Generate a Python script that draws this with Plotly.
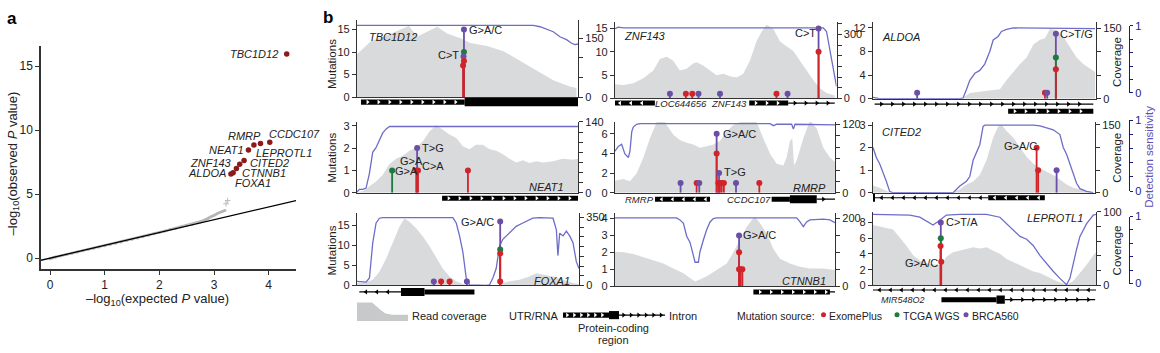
import numpy as np
import plotly.graph_objects as go

W, H = 1160, 353
FONT = "Liberation Sans, Arial, Helvetica, sans-serif"
INK = "#222222"
AXIS = "#333333"
RED, GREEN, PURPLE = "#d1232a", "#1f7a3d", "#6b4fa6"
SRC_COLOR = {"E": RED, "T": GREEN, "B": PURPLE}
COV_GREY = "#d9dadc"
SENS_BLUE = "#6d6dc9"
NAVY = "#1b1b7d"
LABEL_PURPLE = "#6252b8"
SIG_RED = "#8b1a1a"

# ------------------------------------------------------------------ panel a data
qq_expected = [0.00, 0.05, 0.10, 0.20, 0.30, 0.40, 0.50, 0.60, 0.70, 0.80, 0.90, 1.00, 1.10, 1.20,
               1.30, 1.40, 1.50, 1.60, 1.70, 1.80, 1.90, 2.00, 2.10, 2.20, 2.30, 2.40, 2.50, 2.60,
               2.70, 2.75, 2.80, 2.85, 2.90, 2.95, 3.00, 3.05, 3.10, 3.15, 3.20, 3.22, 3.25]
qq_observed = [-0.05, 0.03, 0.09, 0.19, 0.29, 0.38, 0.48, 0.58, 0.67, 0.77, 0.87, 0.96, 1.06, 1.16,
               1.26, 1.37, 1.47, 1.58, 1.68, 1.79, 1.90, 2.01, 2.12, 2.23, 2.34, 2.45, 2.55, 2.65,
               2.76, 2.82, 2.92, 3.02, 3.14, 3.26, 3.36, 3.46, 3.56, 3.64, 3.72, 4.25, 4.50]
diag_x = [-0.17, 4.5]
diag_y = [-0.17, 4.5]
sig_genes = ["TBC1D12", "CCDC107", "RMRP", "LEPROTL1", "NEAT1", "CITED2", "ZNF143", "CTNNB1", "FOXA1", "ALDOA"]
sig_expected = [4.33, 4.02, 3.85, 3.73, 3.63, 3.55, 3.47, 3.41, 3.35, 3.31]
sig_observed = [15.96, 9.06, 8.96, 8.84, 8.46, 7.63, 7.33, 7.00, 6.67, 6.57]

# ------------------------------------------------------------------ panel b data (x: 0-100 along locus)
tbc1d12_cov_pos = [0, 6.3, 13.8, 21.3, 23.5, 27.3, 31.8, 36.3, 40.8, 46.8, 51.3, 58.8, 66.3, 73.8, 81.3, 88.8, 96.3, 99.3]
tbc1d12_cov = [109, 142, 158, 176, 181, 154, 166, 179, 162, 150, 138, 130, 117, 93, 68, 43, 27, 23]
tbc1d12_sens_pos = [0, 79.8, 82.8, 85.8, 88.8, 91.8, 94.8, 97.1, 98.6, 100]
tbc1d12_sens = [1, 1, 0.98, 0.95, 0.91, 0.84, 0.80, 0.75, 0.73, 0.74]
tbc1d12_mut_pos = [48.4, 48.4, 48.2, 48.0, 48.4]
tbc1d12_mut_n = [15, 10, 9, 7, 8]
tbc1d12_mut_src = ["B", "T", "B", "E", "E"]
tbc1d12_mut_labels = ["C>T", "G>A/C"]
tbc1d12_track = [("utr", 1.8, 48.7, ">", 0), ("cds", 48.7, 100, "", 0)]

znf143_cov_pos = [0, 3.8, 8.3, 12.8, 17.3, 20.3, 23.3, 26.3, 29.3, 32.3, 35.3, 36.8, 39.8, 42.9, 45.9, 48.9, 51.9,
                  54.9, 57.9, 60.9, 63.9, 66.2, 68.4, 71.4, 74.4, 77.4, 80.5, 83.5, 86.5, 89.5, 92.5, 95.5, 99.2]
znf143_cov = [66, 63, 71, 94, 131, 184, 195, 176, 131, 139, 164, 169, 154, 131, 109, 116, 104,
              98, 116, 176, 267, 312, 345, 327, 267, 244, 222, 176, 131, 86, 48, 26, 14]
znf143_sens_pos = [0, 1.5, 3.8, 94.0, 95.5, 97.0, 98.5, 100]
znf143_sens = [0.99, 1.01, 1, 1, 0.95, 0.67, 0.40, 0.17]
znf143_mut_pos = [24.8, 32.0, 34.9, 37.7, 47.4, 72.9, 77.9, 91.9, 91.9]
znf143_mut_n = [1, 1, 1, 1, 1, 1, 1, 10, 15]
znf143_mut_src = ["B", "E", "E", "B", "B", "E", "B", "E", "B"]
znf143_mut_labels = ["C>T"]
znf143_track = [("utr", -0.75, 18.0, "<", 0), ("utr", 60.6, 78.2, ">", 0), ("intron", 78.2, 99.2, ">", 0)]
znf143_track_text = [("LOC644656", 29.8, 0), ("ZNF143", 51.4, 0)]

aldoa_cov_pos = [0, 38.9, 40.4, 43.4, 49.4, 56.9, 59.9, 62.9, 65.9, 68.9, 71.9, 74.9, 77.1, 79.3, 82.3, 85.3,
                 88.3, 91.3, 94.3, 97.3, 99.6]
aldoa_cov = [0, 0, 2, 12, 16, 20, 40, 57, 74, 88, 116, 126, 129, 149, 147, 133, 109, 88, 74, 64, 57]
aldoa_sens_pos = [0, 2.2, 3.0, 38.9, 40.4, 41.9, 43.4, 45.7, 47.9, 50.1, 52.4, 53.9, 56.1, 57.6, 59.9, 62.9, 99.6]
aldoa_sens = [0.02, 0.01, 0, 0, 0.01, 0.13, 0.26, 0.36, 0.40, 0.49, 0.67, 0.83, 0.88, 0.95, 0.98, 1, 0.99]
aldoa_mut_pos = [19.8, 77.1, 78.1, 82.0, 82.0, 82.0]
aldoa_mut_n = [1, 1, 1, 5, 7, 11]
aldoa_mut_src = ["B", "E", "B", "E", "T", "B"]
aldoa_mut_labels = ["C>T/G"]
aldoa_track = [("intron", 0.75, 98.8, ">", 0), ("utr", 60.6, 98.8, ">", 1)]

neat1_cov_pos = [0, 2.6, 5.6, 8.6, 11.6, 14.7, 17.7, 20.7, 23.7, 26.7, 29.8, 32.8, 35.8, 38.8, 41.8, 44.9, 47.9,
                 50.9, 53.9, 56.9, 60.0, 63.0, 66.0, 69.0, 72.1, 75.1, 78.1, 81.1, 84.1, 88.7, 93.2, 97.7, 100]
neat1_cov = [1, 3, 13, 22, 35, 57, 67, 73, 83, 89, 102, 121, 134, 124, 115, 108, 92,
             86, 95, 95, 86, 83, 76, 67, 60, 64, 59, 62, 60, 62, 67, 65, 67]
neat1_sens_pos = [0, 1.1, 2.6, 4.1, 5.6, 7.1, 8.6, 10.1, 11.6, 13.1, 14.7, 100]
neat1_sens = [0.01, 0.05, 0.05, 0.07, 0.29, 0.61, 0.68, 0.78, 0.90, 0.96, 1.0, 1.0]
neat1_mut_pos = [15.9, 27.2, 26.8, 27.6, 50.2]
neat1_mut_n = [1, 2, 1, 1, 1]
neat1_mut_src = ["T", "B", "E", "E", "E"]
neat1_mut_labels = ["G>A", "G>A", "C>A", "T>G"]
neat1_track = [("utr", 38.5, 100, ">", 0)]

rmrp_cov_pos = [0, 3.8, 6.8, 9.8, 12.9, 15.9, 18.9, 21.2, 23.5, 26.5, 29.5, 32.6, 35.6, 38.6, 41.7, 44.7, 47.7,
                50.8, 53.8, 58.3, 62.1, 64.4, 67.4, 70.5, 73.5, 76.5, 78.0, 79.5, 80.6, 81.4, 82.6, 85.6, 88.6,
                91.7, 94.7, 97.7, 100]
rmrp_cov = [21, 24, 20, 34, 62, 96, 124, 139, 119, 102, 93, 88, 85, 79, 82, 85, 91,
            108, 119, 127, 139, 124, 96, 68, 51, 48, 62, 91, 96, 48, 57, 96, 127,
            113, 79, 62, 54]
rmrp_sens_pos = [0, 1.5, 3.0, 4.5, 6.1, 6.8, 7.6, 8.3, 9.8, 11.4, 70.5, 72.0, 73.5, 80.3, 81.1, 81.8, 100]
rmrp_sens = [0.60, 0.67, 0.70, 0.56, 0.51, 0.60, 0.88, 0.95, 0.99, 1, 1, 0.97, 0.99, 0.99, 0.92, 0.99, 0.98]
rmrp_mut_pos = [29.8, 37.1, 38.3, 46.2, 46.2, 47.3, 47.0, 47.7, 48.5, 49.5, 55.0, 65.6]
rmrp_mut_n = [1, 1, 1, 6, 4, 2, 1, 1, 1, 1, 1, 1]
rmrp_mut_src = ["B", "E", "B", "B", "E", "B", "E", "E", "E", "E", "B", "E"]
rmrp_mut_labels = ["G>A/C", "T>G"]
rmrp_track = [("utr", 18.2, 43.2, "<", 0), ("bar", 71.2, 79.5, "", 0), ("cds", 79.5, 91.7, "", 0),
              ("intron", 91.7, 100, ">", 0)]
rmrp_track_text = [("RMRP", 11.2, 0), ("CCDC107", 60.9, 0)]

cited2_cov_pos = [0, 3.0, 6.0, 9.0, 36.1, 39.1, 42.1, 45.1, 48.1, 51.1, 54.1, 56.4, 57.9, 60.2, 63.2, 66.2, 69.2,
                  72.2, 75.2, 78.2, 81.2, 84.2, 87.2, 90.2, 93.2, 96.2, 99.2]
cited2_cov = [16, 11, 4, 0, 1, 7, 18, 25, 39, 71, 121, 146, 150, 136, 121, 100, 79,
              64, 54, 46, 39, 29, 18, 11, 7, 4, 1]
cited2_sens_pos = [0, 1.5, 3.0, 4.5, 6.0, 7.5, 9.0, 36.1, 37.6, 39.1, 42.1, 43.6, 45.1, 48.1, 49.6, 50.4,
                   72.2, 75.2, 78.2, 81.2, 84.2, 85.7, 87.2, 88.7, 90.2, 91.7, 93.2, 96.2, 99.2]
cited2_sens = [0.67, 0.52, 0.43, 0.31, 0.17, 0.02, 0, 0, 0.05, 0.10, 0.17, 0.24, 0.48, 0.71, 0.98, 1,
               1, 0.99, 0.96, 0.93, 0.86, 0.67, 0.57, 0.43, 0.31, 0.14, 0.06, 0.02, 0]
cited2_mut_pos = [73.7, 74.4, 82.7]
cited2_mut_n = [2, 1, 1]
cited2_mut_src = ["E", "E", "B"]
cited2_mut_labels = ["G>A/C"]
cited2_track = [("cds", 0, 0.9, "", 0), ("intron", 0.9, 51.9, "<", 0), ("utr", 51.9, 77.4, "<", 0)]

foxa1_cov_pos = [0, 4.1, 7.1, 10.1, 13.1, 16.1, 19.1, 21.4, 23.6, 26.6, 29.6, 32.6, 35.6, 38.6, 41.7, 44.7, 47.7,
                 50.7, 53.7, 64.2, 65.7, 68.7, 73.2, 77.7, 80.8, 83.8, 88.3, 92.8, 97.3, 100]
foxa1_cov = [13, 17, 30, 71, 138, 221, 303, 345, 328, 295, 254, 204, 146, 88, 46, 22, 8,
             2, 0, 0, 13, 22, 30, 46, 63, 55, 46, 30, 13, 8]
foxa1_sens_pos = [0, 4.1, 5.6, 7.1, 8.6, 10.1, 11.6, 43.2, 44.7, 46.2, 47.7, 49.2, 50.7, 58.2, 59.7, 61.2, 62.7,
                  64.2, 65.7, 67.2, 68.7, 71.7, 74.7, 79.2, 82.3, 88.3, 89.8, 90.5, 91.3, 92.8, 94.3, 95.8,
                  97.3, 98.8, 100]
foxa1_sens = [0.06, 0.05, 0.11, 0.63, 0.92, 0.99, 1, 1, 0.92, 0.73, 0.49, 0.11, 0.01, 0, 0.01, 0.11, 0.25,
              0.58, 0.68, 0.73, 0.77, 0.87, 0.92, 0.99, 1, 0.99, 0.82, 0.44, 0.77, 0.73, 0.80, 0.73,
              0.63, 0.35, 0.25]
foxa1_mut_pos = [34.6, 37.9, 41.7, 49.5, 64.5, 64.5, 64.5, 64.5]
foxa1_mut_n = [1, 1, 1, 1, 16, 9, 8, 1]
foxa1_mut_src = ["B", "E", "E", "B", "B", "T", "E", "E"]
foxa1_mut_labels = ["G>A/C"]
foxa1_track = [("intron", 1.05, 19.8, "<", 0), ("cds", 19.8, 30.4, "", 0), ("bar", 30.4, 52.9, "", 0)]

ctnnb1_cov_pos = [0, 3.8, 8.3, 12.9, 17.4, 22.0, 26.5, 31.1, 34.1, 36.4, 38.6, 41.7, 46.2, 50.8, 53.8, 56.8,
                  59.8, 62.1, 63.6, 65.9, 68.9, 72.0, 75.0, 79.5, 84.1, 88.6, 94.7, 100]
ctnnb1_cov = [102, 100, 95, 86, 76, 67, 52, 38, 24, 14, 20, 29, 48, 67, 100, 140,
              175, 195, 205, 186, 157, 110, 81, 67, 57, 52, 52, 48]
ctnnb1_sens_pos = [0, 28.0, 29.5, 31.1, 32.6, 34.1, 35.6, 36.4, 37.9, 38.6, 40.2, 41.7, 43.2, 44.7, 46.2,
                   82.6, 84.1, 85.6, 87.1, 88.6, 94.7, 97.7, 100]
ctnnb1_sens = [1, 1, 0.97, 0.92, 0.73, 0.64, 0.45, 0.35, 0.35, 0.50, 0.68, 0.83, 0.94, 0.99, 1,
               1, 0.94, 0.87, 0.94, 0.97, 0.98, 0.97, 0.93]
ctnnb1_mut_pos = [56.4, 56.4, 56.4, 57.1, 57.9]
ctnnb1_mut_n = [3, 2, 1, 1, 1]
ctnnb1_mut_src = ["B", "E", "E", "E", "E"]
ctnnb1_mut_labels = ["G>A/C"]
ctnnb1_track = [("utr", 62.9, 97.7, ">", 0), ("intron", 97.7, 100, "", 0)]

leprotl1_cov_pos = [0, 3.0, 6.0, 9.0, 12.0, 15.0, 18.0, 21.0, 24.0, 28.4, 30.7, 32.9, 35.9, 38.9, 41.9, 44.9,
                    47.9, 50.9, 53.9, 56.9, 59.9, 62.9, 65.9, 68.9, 71.9, 74.9, 77.8, 80.8, 83.8, 86.8, 89.8,
                    92.8, 95.8, 98.8, 100]
leprotl1_cov = [82, 80, 78, 76, 65, 54, 41, 34, 30, 28, 28, 39, 45, 47, 50, 52,
                50, 52, 47, 43, 36, 32, 28, 23, 19, 17, 12, 8, 4, 1, 6,
                17, 28, 41, 45]
leprotl1_sens_pos = [0, 9.0, 16.5, 21.0, 24.0, 26.9, 29.2, 30.7, 32.9, 38.9, 50.9, 56.9, 59.9, 62.9, 65.9,
                     68.9, 71.9, 74.9, 77.8, 80.8, 83.8, 86.8, 88.3, 89.8, 91.3, 92.8, 95.8, 98.8, 100]
leprotl1_sens = [1, 1, 0.99, 0.96, 0.90, 0.85, 0.90, 0.94, 0.99, 1, 1, 0.96, 0.87, 0.78, 0.69,
                 0.65, 0.56, 0.42, 0.31, 0.20, 0.10, 0.01, 0.10, 0.33, 0.51, 0.69, 0.87, 0.99, 1]
leprotl1_mut_pos = [30.4, 30.4, 30.3, 30.6]
leprotl1_mut_n = [8, 6, 5, 3]
leprotl1_mut_src = ["B", "T", "E", "E"]
leprotl1_mut_labels = ["C>T/A", "G>A/C"]
leprotl1_track = [("intron", 0, 100, "<", 0), ("bar", 30.7, 55.4, "", 1), ("cds", 55.4, 59.1, "", 1),
                  ("intron", 59.1, 99.6, ">", 1)]
leprotl1_track_text = [("MIR548O2", 13.6, 1)]

legend_sources = ["ExomePlus", "TCGA WGS", "BRCA560"]
legend_source_codes = ["E", "T", "B"]

# ------------------------------------------------------------------ layout of panel b (positions in px)
panels = [
    dict(name="TBC1D12", cov_pos=tbc1d12_cov_pos, cov=tbc1d12_cov, sens_pos=tbc1d12_sens_pos, sens=tbc1d12_sens,
         mut_pos=tbc1d12_mut_pos, mut_n=tbc1d12_mut_n, mut_src=tbc1d12_mut_src,
         labels=tbc1d12_mut_labels, label_pos=[(46.6, 9.3, "right"), (50.2, 15, "left")],
         track=tbc1d12_track, track_text=[], rows=[99.5],
         box=(357, 578, 15, 94.3), m_top=17, m_ticks=[0, 5, 10, 15], c_top=195, c_step=50, c_label=150, c_max=150,
         s_top=1.067, gene_pos=(5.0, 13.3, "left"), third=None),
    dict(name="ZNF143", cov_pos=znf143_cov_pos, cov=znf143_cov, sens_pos=znf143_sens_pos, sens=znf143_sens,
         mut_pos=znf143_mut_pos, mut_n=znf143_mut_n, mut_src=znf143_mut_src,
         labels=znf143_mut_labels, label_pos=[(91.0, 14.1, "right")],
         track=znf143_track, track_text=znf143_track_text, rows=[100.5],
         box=(615, 836.5, 16.7, 95.7), m_top=16.37, m_ticks=[0, 5, 10, 15], c_top=357, c_step=50, c_label=300, c_max=350,
         s_top=1.082, gene_pos=(3.8, 13.3, "left"), third=None),
    dict(name="ALDOA", cov_pos=aldoa_cov_pos, cov=aldoa_cov, sens_pos=aldoa_sens_pos, sens=aldoa_sens,
         mut_pos=aldoa_mut_pos, mut_n=aldoa_mut_n, mut_src=aldoa_mut_src,
         labels=aldoa_mut_labels, label_pos=[(83.6, 11, "left")],
         track=aldoa_track, track_text=[], rows=[101.5, 109],
         box=(873, 1096, 17, 96), m_top=12.93, m_ticks=[0, 4, 8, 12], c_top=163, c_step=50, c_label=150, c_max=150,
         s_top=1.078, gene_pos=(3.7, 10.5, "left"), third=(20.7, 90)),
    dict(name="NEAT1", cov_pos=neat1_cov_pos, cov=neat1_cov, sens_pos=neat1_sens_pos, sens=neat1_sens,
         mut_pos=neat1_mut_pos, mut_n=neat1_mut_n, mut_src=neat1_mut_src,
         labels=neat1_mut_labels, label_pos=[(16.9, 0.97, "left"), (19.2, 1.42, "left"), (29.0, 1.2, "left"),
                                             (29.0, 2.0, "left")],
         track=neat1_track, track_text=[], rows=[199],
         box=(357, 578, 120, 193.3), m_top=3.17, m_ticks=[0, 1, 2, 3], c_top=140, c_step=20, c_label=140, c_max=140,
         s_top=1.069, gene_pos=(94.0, 0.25, "right"), third=None),
    dict(name="RMRP", cov_pos=rmrp_cov_pos, cov=rmrp_cov, sens_pos=rmrp_sens_pos, sens=rmrp_sens,
         mut_pos=rmrp_mut_pos, mut_n=rmrp_mut_n, mut_src=rmrp_mut_src,
         labels=rmrp_mut_labels, label_pos=[(48.5, 6, "left"), (48.9, 2.1, "left")],
         track=rmrp_track, track_text=rmrp_track_text, rows=[200],
         box=(615, 835, 120, 193.3), m_top=7.2, m_ticks=[0, 2, 4, 6], c_top=124.6, c_step=20, c_label=120, c_max=120,
         s_top=1.024, gene_pos=(96.2, 0.5, "right"), third=None),
    dict(name="CITED2", cov_pos=cited2_cov_pos, cov=cited2_cov, sens_pos=cited2_sens_pos, sens=cited2_sens,
         mut_pos=cited2_mut_pos, mut_n=cited2_mut_n, mut_src=cited2_mut_src,
         labels=cited2_mut_labels, label_pos=[(74.2, 2.07, "right")],
         track=cited2_track, track_text=[], rows=[198.5],
         box=(873, 1095, 120, 193.3), m_top=3.14, m_ticks=[0, 1, 2, 3], c_top=156, c_step=50, c_label=150, c_max=150,
         s_top=1.047, gene_pos=(3.8, 2.71, "left"), third=(118.3, 191.7)),
    dict(name="FOXA1", cov_pos=foxa1_cov_pos, cov=foxa1_cov, sens_pos=foxa1_sens_pos, sens=foxa1_sens,
         mut_pos=foxa1_mut_pos, mut_n=foxa1_mut_n, mut_src=foxa1_mut_src,
         labels=foxa1_mut_labels, label_pos=[(62.2, 16, "right")],
         track=foxa1_track, track_text=[], rows=[296],
         box=(357, 579, 214, 289.3), m_top=18.2, m_ticks=[0, 5, 10, 15], c_top=375, c_step=50, c_label=350, c_max=350,
         s_top=1.071, gene_pos=(96.5, 1.05, "right"), third=None),
    dict(name="CTNNB1", cov_pos=ctnnb1_cov_pos, cov=ctnnb1_cov, sens_pos=ctnnb1_sens_pos, sens=ctnnb1_sens,
         mut_pos=ctnnb1_mut_pos, mut_n=ctnnb1_mut_n, mut_src=ctnnb1_mut_src,
         labels=ctnnb1_mut_labels, label_pos=[(57.9, 3, "left")],
         track=ctnnb1_track, track_text=[], rows=[296],
         box=(615, 835, 214, 290), m_top=4.34, m_ticks=[0, 1, 2, 3, 4], c_top=217, c_step=50, c_label=200, c_max=200,
         s_top=1.075, gene_pos=(96.2, 0.32, "right"), third=None),
    dict(name="LEPROTL1", cov_pos=leprotl1_cov_pos, cov=leprotl1_cov, sens_pos=leprotl1_sens_pos, sens=leprotl1_sens,
         mut_pos=leprotl1_mut_pos, mut_n=leprotl1_mut_n, mut_src=leprotl1_mut_src,
         labels=leprotl1_mut_labels, label_pos=[(32.3, 8, "left"), (29.6, 2.9, "right")],
         track=leprotl1_track, track_text=leprotl1_track_text, rows=[294, 304],
         box=(873, 1096, 213, 289.3), m_top=9.35, m_ticks=[0, 2, 4, 6, 8], c_top=100, c_step=20, c_label=100, c_max=100,
         s_top=1.037, gene_pos=(94.6, 8.5, "right"), third=(218, 287.3)),
]

# ------------------------------------------------------------------ helpers
fig = go.Figure()
axes = {}
count = {"x": 0, "y": 0}
annotations = []
shapes = []
TICKFONT = dict(family=FONT, size=11, color=INK)


def new_axis(letter):
    count[letter] += 1
    n = count[letter]
    suffix = "" if n == 1 else str(n)
    return letter + suffix, letter + "axis" + suffix


def fx(px):
    return px / W


def fy(py):
    return 1 - py / H


def ann(text, x, y, xref="paper", yref="paper", size=11, color=INK, xanchor="center",
        yanchor="middle", italic=False, bold=False, angle=0):
    if italic:
        text = "<i>" + text + "</i>"
    if bold:
        text = "<b>" + text + "</b>"
    annotations.append(dict(text=text, x=x, y=y, xref=xref, yref=yref, showarrow=False,
                            font=dict(family=FONT, size=size, color=color), xanchor=xanchor,
                            yanchor=yanchor, textangle=angle, borderpad=0))


def draw_feature(kind, a, b, direction, ypx, xref, yref, step):
    if kind in ("utr", "bar", "cds"):
        h = 4.2 if kind == "cds" else 2.6
        shapes.append(dict(type="rect", xref=xref, yref=yref, x0=a, x1=b, y0=ypx - h, y1=ypx + h,
                           fillcolor="black", line=dict(width=0), layer="below"))
        if kind == "utr" and direction:
            xs = np.arange(a + step * 0.6, b - step * 0.3, step)
            fig.add_trace(go.Scatter(x=xs, y=[ypx] * len(xs), xaxis=xref, yaxis=yref, mode="markers",
                                     marker=dict(symbol="triangle-right" if direction == ">" else "triangle-left",
                                                 size=4, color="white", line=dict(width=0)),
                                     cliponaxis=False, hoverinfo="skip"))
    else:
        shapes.append(dict(type="line", xref=xref, yref=yref, x0=a, x1=b, y0=ypx, y1=ypx,
                           line=dict(color="black", width=1.2), layer="below"))
        if direction:
            xs = np.arange(a + step * 0.6, b - step * 0.3, step)
            fig.add_trace(go.Scatter(x=xs, y=[ypx] * len(xs), xaxis=xref, yaxis=yref, mode="markers",
                                     marker=dict(symbol="triangle-right" if direction == ">" else "triangle-left",
                                                 size=4.5, color="black", line=dict(width=0)),
                                     cliponaxis=False, hoverinfo="skip"))


# ------------------------------------------------------------------ panel a
xa, xak = new_axis("x")
ya, yak = new_axis("y")
axes[xak] = dict(domain=[fx(41), fx(296)], range=[-0.165, 4.5], anchor=ya, showline=True, linecolor=AXIS,
                 linewidth=1.5, ticks="outside", ticklen=4, tickcolor=AXIS, tickvals=[0, 1, 2, 3, 4],
                 showgrid=False, zeroline=False, tickfont=dict(family=FONT, size=12, color=INK))
axes[yak] = dict(domain=[fy(272), fy(41.7)], range=[-0.83, 16.56], anchor=xa, showline=True, linecolor=AXIS,
                 linewidth=1.5, ticks="outside", ticklen=4, tickcolor=AXIS, tickvals=[0, 5, 10, 15],
                 showgrid=False, zeroline=False, tickfont=dict(family=FONT, size=12, color=INK))
n_band = len(qq_expected) - 2
fig.add_trace(go.Scatter(x=qq_expected[:n_band], y=qq_observed[:n_band], xaxis=xa, yaxis=ya, mode="lines+markers",
                         line=dict(color="#bdbdbd", width=2.6), marker=dict(size=3, color="#b5b5b5"),
                         hoverinfo="skip"))
fig.add_trace(go.Scatter(x=qq_expected[n_band:], y=qq_observed[n_band:], xaxis=xa, yaxis=ya, mode="markers",
                         marker=dict(size=4, color="#bdbdbd", symbol="cross-thin", line=dict(width=1, color="#bdbdbd")),
                         hoverinfo="skip"))
fig.add_trace(go.Scatter(x=diag_x, y=diag_y, xaxis=xa, yaxis=ya, mode="lines",
                         line=dict(color="black", width=1.3), hoverinfo="skip"))
fig.add_trace(go.Scatter(x=sig_expected, y=sig_observed, xaxis=xa, yaxis=ya, mode="markers",
                         marker=dict(size=5.5, color=SIG_RED), hoverinfo="skip", cliponaxis=False))
sig_label_pos = [(4.19, 15.94, "right"), (3.99, 9.69, "left"), (3.87, 9.52, "right"), (3.75, 8.18, "left"),
                 (3.56, 8.46, "right"), (3.64, 7.45, "left"), (3.35, 7.45, "right"), (3.50, 6.62, "left"),
                 (3.37, 5.87, "left"), (3.23, 6.62, "right")]
for g, (lx, ly, anc) in zip(sig_genes, sig_label_pos):
    ann(g, lx, ly, xref=xa, yref=ya, size=11, xanchor=anc, italic=True)
ann("a", fx(12), fy(13), size=17, bold=True, color="black")
ann("b", fx(328), fy(12), size=17, bold=True, color="black")
ann("–log<sub>10</sub>(observed <i>P</i> value)", fx(13), fy(163), size=13, angle=-90)
ann("–log<sub>10</sub>(expected <i>P</i> value)", fx(157), fy(303.5), size=13)

# ------------------------------------------------------------------ panel b
for p in panels:
    x0, x1, ytop, ybot = p["box"]
    xr, xk = new_axis("x")
    ycr, yck = new_axis("y")
    ysr, ysk = new_axis("y")
    ymr, ymk = new_axis("y")
    ytr, ytk = new_axis("y")
    dom = [fy(ybot), fy(ytop)]
    axes[xk] = dict(domain=[fx(x0), fx(x1)], range=[0, 100], anchor=ycr, showline=True, linecolor=AXIS,
                    linewidth=1.2, showticklabels=False, ticks="", showgrid=False, zeroline=False)
    cvals = list(range(0, p["c_max"] + 1, p["c_step"]))
    ctext = [str(v) if v in (0, p["c_label"]) else "" for v in cvals]
    axes[yck] = dict(domain=dom, range=[0, p["c_top"]], anchor=xr, side="right", showline=True,
                     linecolor=AXIS, linewidth=1.2, ticks="outside", ticklen=4, tickcolor=AXIS,
                     tickvals=cvals, ticktext=ctext, showgrid=False, zeroline=False, tickfont=TICKFONT)
    axes[ysk] = dict(overlaying=ycr, range=[0, p["s_top"]], visible=False, anchor=xr)
    axes[ymk] = dict(overlaying=ycr, range=[0, p["m_top"]], anchor=xr, side="left", showline=True,
                     linecolor=AXIS, linewidth=1.2, ticks="outside", ticklen=4, tickcolor=AXIS,
                     tickvals=p["m_ticks"], showgrid=False, zeroline=False, tickfont=TICKFONT)
    axes[ytk] = dict(domain=[fy(ybot + 22), fy(ybot + 1)], range=[ybot + 22, ybot + 1], visible=False, anchor=xr)

    # read coverage
    fig.add_trace(go.Scatter(x=p["cov_pos"], y=p["cov"], xaxis=xr, yaxis=ycr, mode="lines",
                             line=dict(width=0, color=COV_GREY), fill="tozeroy", fillcolor=COV_GREY,
                             hoverinfo="skip"))
    # detection sensitivity
    fig.add_trace(go.Scatter(x=p["sens_pos"], y=p["sens"], xaxis=xr, yaxis=ysr, mode="lines",
                             line=dict(width=1.3, color=SENS_BLUE), hoverinfo="skip"))
    # lollipops
    order = sorted(range(len(p["mut_n"])), key=lambda i: -p["mut_n"][i])
    for i in order:
        fig.add_trace(go.Scatter(x=[p["mut_pos"][i], p["mut_pos"][i]], y=[0, p["mut_n"][i]], xaxis=xr, yaxis=ymr,
                                 mode="lines", line=dict(width=1.8, color=SRC_COLOR[p["mut_src"][i]]),
                                 hoverinfo="skip", cliponaxis=False))
    fig.add_trace(go.Scatter(x=[p["mut_pos"][i] for i in order], y=[p["mut_n"][i] for i in order],
                             xaxis=xr, yaxis=ymr, mode="markers",
                             marker=dict(size=6, color=[SRC_COLOR[p["mut_src"][i]] for i in order],
                                         line=dict(width=0)),
                             hoverinfo="skip", cliponaxis=False))
    for txt, (lx, ly, anc) in zip(p["labels"], p["label_pos"]):
        ann(txt, lx, ly, xref=xr, yref=ymr, size=11, xanchor=anc)
    gx, gy, ganc = p["gene_pos"]
    ann(p["name"], gx, gy, xref=xr, yref=ymr, size=11, xanchor=ganc, italic=True)

    # gene track
    step = 1100.0 / (x1 - x0)
    for kind, a, b, direction, row in p["track"]:
        draw_feature(kind, a, b, direction, p["rows"][row], xr, ytr, step)
    for txt, pos, row in p["track_text"]:
        ann(txt, pos, p["rows"][row], xref=xr, yref=ytr, size=9 if txt == "MIR548O2" else 9.5, italic=True)

    # detection sensitivity axis (right column)
    if p["third"]:
        ydr, ydk = new_axis("y")
        a, b = p["third"]
        axes[ydk] = dict(domain=[fy(b), fy(a)], range=[0, 1], anchor="free", position=fx(1129), side="right",
                         showline=True, linecolor=NAVY, linewidth=1.3, ticks="outside", ticklen=3,
                         tickcolor=NAVY, tickvals=[0, 0.2, 0.4, 0.6, 0.8, 1],
                         ticktext=["0", "", "", "", "", "1"], showgrid=False, zeroline=False,
                         tickfont=dict(family=FONT, size=11, color=NAVY))
        fig.add_trace(go.Scatter(x=[None], y=[None], xaxis=xr, yaxis=ydr, hoverinfo="skip"))

for yc in (60, 157, 253):
    ann("Mutations", fx(332), fy(yc), size=11.5, angle=-90)
for yc in (58, 157, 253):
    ann("Coverage", fx(1117), fy(yc), size=11.5, angle=-90)
ann("Detection sensitivity", fx(1149), fy(156), size=11.5, angle=-90, color=LABEL_PURPLE)

# ------------------------------------------------------------------ legend row (pixel space)
xP, xPk = new_axis("x")
yP, yPk = new_axis("y")
axes[xPk] = dict(domain=[0, 1], range=[0, W], visible=False, anchor=yP)
axes[yPk] = dict(domain=[0, 1], range=[H, 0], visible=False, anchor=xP)
legend_cov_x = [357, 357, 372, 374, 377, 381, 385, 392, 408, 408]
legend_cov_y = [326, 307, 307, 309, 312, 315, 318, 319.5, 319.5, 326]
fig.add_trace(go.Scatter(x=legend_cov_x, y=legend_cov_y, xaxis=xP, yaxis=yP, mode="lines", fill="toself",
                         fillcolor="#c8c9cb", line=dict(width=0), hoverinfo="skip"))
ann("Read coverage", fx(411), fy(321), size=11, xanchor="left")
ann("UTR/RNA", fx(560), fy(321), size=11, xanchor="right")
draw_feature("utr", 563, 609, ">", 320, xP, yP, 7)
draw_feature("cds", 609, 619, "", 320, xP, yP, 7)
draw_feature("intron", 619, 665, ">", 320, xP, yP, 7.5)
ann("Intron", fx(668), fy(321), size=11, xanchor="left")
ann("Protein-coding", fx(613), fy(333.5), size=11)
ann("region", fx(613), fy(346), size=11)
ann("Mutation source:", fx(736), fy(321), size=10.5, xanchor="left")
legend_dot_x = [823.5, 897, 966]
legend_text_x = [828, 902, 971]
fig.add_trace(go.Scatter(x=legend_dot_x, y=[319.5] * 3, xaxis=xP, yaxis=yP, mode="markers",
                         marker=dict(size=5, color=[SRC_COLOR[c] for c in legend_source_codes]),
                         hoverinfo="skip"))
for name, tx in zip(legend_sources, legend_text_x):
    ann(name, fx(tx), fy(321), size=10.5, xanchor="left")

fig.update_layout(width=W, height=H, margin=dict(l=0, r=0, t=0, b=0), paper_bgcolor="white",
                  plot_bgcolor="rgba(0,0,0,0)", showlegend=False, annotations=annotations, shapes=shapes,
                  font=dict(family=FONT, size=11, color=INK), **axes)
fig.write_html("out.html")
